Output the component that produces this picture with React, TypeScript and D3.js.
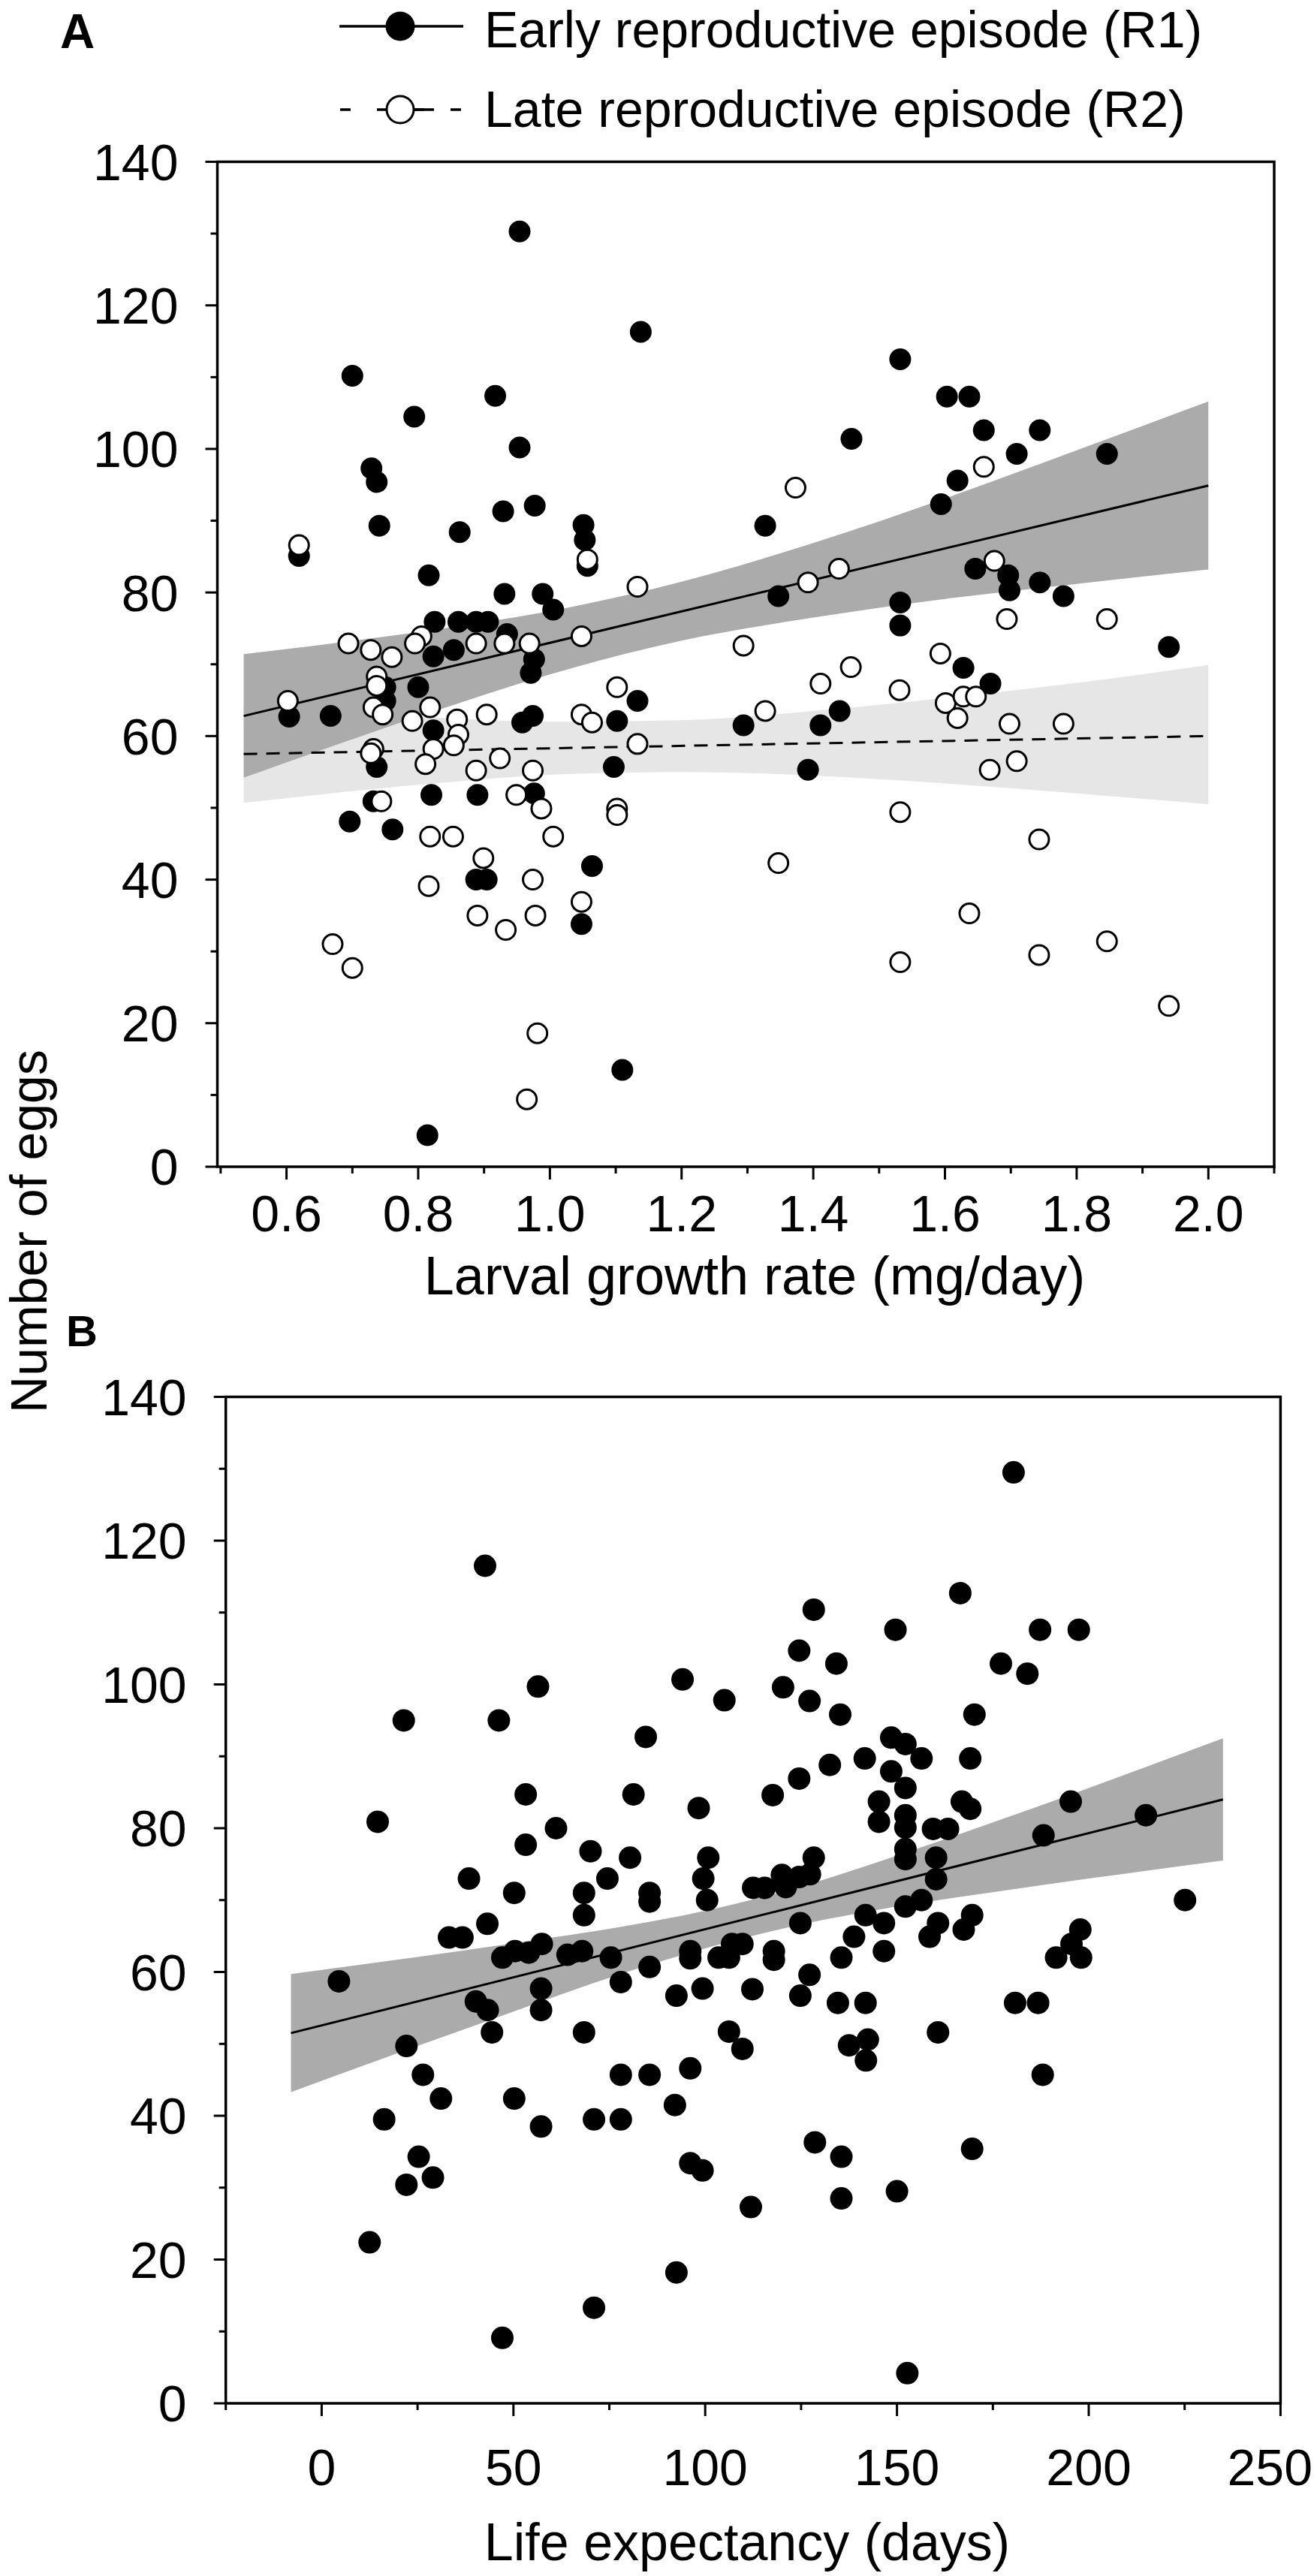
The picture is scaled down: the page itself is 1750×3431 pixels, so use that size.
import * as d3 from 'd3'
import React from 'react'

type Pt = [number, number]

// panel A: number of eggs vs larval growth rate (mg/day)
const growthEarly: Pt[] = [
  [0.954, 130.3], [1.138, 116.3], [0.7, 110.2], [1.532, 112.5], [0.917, 107.4], [0.794, 104.5],
  [1.603, 107.3], [1.637, 107.3], [1.458, 101.4], [1.659, 102.6], [1.744, 102.6], [1.709, 99.3],
  [1.846, 99.3], [0.954, 100.2], [0.729, 97.3], [0.737, 95.4], [0.741, 89.3], [0.929, 91.3],
  [0.977, 92.1], [0.863, 88.4], [1.051, 89.4], [1.053, 87.3], [1.057, 83.7], [0.816, 82.4],
  [1.327, 89.3], [1.594, 92.3], [1.619, 95.6], [1.646, 83.3], [1.696, 82.4], [1.698, 80.3],
  [1.744, 81.4], [1.78, 79.5], [1.532, 78.6], [1.532, 75.4], [1.347, 79.5], [0.931, 79.8],
  [0.989, 79.8], [1.005, 77.6], [0.825, 75.9], [0.861, 75.9], [0.888, 75.9], [0.906, 75.9],
  [0.935, 74.2], [0.854, 72.0], [0.823, 71.1], [0.976, 70.7], [0.971, 68.8], [0.8, 66.8],
  [0.75, 66.8], [0.75, 64.9], [0.619, 85.1], [0.604, 62.7], [0.667, 62.8], [1.94, 72.4],
  [1.669, 67.3], [1.628, 69.5], [1.294, 61.5], [1.411, 61.5], [1.44, 63.5], [1.392, 55.3],
  [1.102, 62.1], [1.097, 55.7], [1.133, 64.9], [0.958, 61.9], [0.974, 62.8], [0.737, 55.7],
  [0.823, 60.8], [0.82, 51.8], [0.89, 51.8], [0.976, 52.0], [0.732, 50.9], [0.696, 48.1],
  [0.761, 47.0], [0.888, 40.0], [0.904, 40.0], [1.064, 41.9], [1.048, 33.8], [1.11, 13.5],
  [0.814, 4.4],
]

const growthLate: Pt[] = [
  [0.619, 86.6], [1.057, 84.6], [1.133, 80.8], [0.694, 72.9], [0.728, 72.0], [0.76, 71.0],
  [0.805, 73.9], [0.795, 72.9], [0.888, 72.9], [0.931, 72.9], [0.969, 72.9], [1.048, 73.9],
  [0.737, 68.3], [0.737, 67.0], [0.732, 64.0], [0.746, 63.0], [0.602, 64.9], [0.818, 64.0],
  [0.791, 62.1], [0.859, 62.3], [0.861, 60.2], [0.854, 58.7], [0.904, 63.0], [1.048, 63.0],
  [1.064, 61.9], [1.102, 66.8], [1.133, 58.9], [0.732, 58.2], [0.728, 57.6], [0.823, 58.2],
  [0.811, 56.1], [0.924, 56.9], [0.888, 55.2], [0.974, 55.2], [0.949, 51.8], [0.987, 49.9],
  [0.744, 50.9], [1.102, 49.9], [1.102, 49.0], [1.005, 46.0], [0.818, 46.0], [0.853, 46.0],
  [0.899, 43.0], [0.816, 39.1], [0.974, 40.0], [1.048, 36.9], [0.89, 35.0], [0.933, 33.0],
  [0.978, 35.0], [0.67, 31.0], [0.7, 27.7], [0.965, 9.4], [0.981, 18.6], [1.373, 94.6],
  [1.659, 97.5], [1.675, 84.4], [1.439, 83.3], [1.392, 81.4], [1.294, 72.6], [1.694, 76.3],
  [1.846, 76.3], [1.593, 71.5], [1.457, 69.6], [1.411, 67.3], [1.531, 66.4], [1.327, 63.5],
  [1.601, 64.6], [1.628, 65.5], [1.647, 65.5], [1.619, 62.5], [1.698, 61.7], [1.78, 61.7],
  [1.668, 55.3], [1.709, 56.5], [1.532, 49.4], [1.743, 45.6], [1.347, 42.3], [1.637, 35.3],
  [1.846, 31.4], [1.743, 29.5], [1.532, 28.5], [1.94, 22.4],
]

// panel B: number of eggs vs life expectancy (days)
const lifeEggs: Pt[] = [
  [42.6, 116.5], [56.4, 99.7], [21.4, 95.0], [46.2, 95.0], [94.1, 100.7], [105.0, 97.8],
  [84.5, 92.7], [53.2, 84.7], [81.3, 84.7], [98.3, 82.8], [14.6, 80.9], [61.1, 80.0],
  [53.2, 77.7], [70.1, 76.8], [80.4, 75.9], [100.8, 75.9], [38.4, 73.0], [74.5, 73.0],
  [99.5, 73.0],
  [4.5, 58.7], [22.1, 49.7], [26.4, 45.7], [31.1, 42.4], [16.3, 39.5], [25.3, 34.3],
  [22.1, 30.4], [29.0, 31.4], [12.5, 22.4], [47.1, 9.1], [33.2, 64.8], [36.7, 64.8],
  [50.2, 71.0], [43.2, 66.7], [40.2, 55.9], [43.3, 54.7], [44.4, 51.6], [47.1, 62.0],
  [50.4, 62.9], [54.0, 62.7], [57.4, 63.9], [57.2, 57.7], [57.2, 54.7], [50.2, 42.4],
  [57.2, 38.5], [68.4, 71.0], [68.4, 67.9], [64.1, 62.4], [67.9, 62.9], [75.4, 62.0],
  [78.0, 58.6], [68.4, 51.6], [71.0, 39.5], [78.0, 39.5], [78.0, 45.7], [71.0, 13.3],
  [85.5, 71.0], [85.5, 69.8], [85.5, 60.7], [85.5, 45.7], [92.5, 56.7], [92.1, 41.5],
  [92.5, 18.2], [96.1, 62.9], [96.1, 61.9], [96.1, 46.6], [99.3, 57.7], [96.1, 33.4],
  [99.3, 32.4], [100.5, 70.0], [103.5, 62.0], [106.2, 62.0], [107.0, 63.9], [109.7, 63.9],
  [106.2, 51.7], [109.7, 49.3], [111.9, 27.3], [112.3, 57.6],
  [180.4, 129.5], [166.5, 112.7], [149.6, 107.6], [187.3, 107.6], [197.4, 107.6], [128.3, 110.4],
  [124.5, 104.7], [134.2, 102.9], [177.1, 102.9], [184.0, 101.5], [120.3, 99.6], [127.2, 97.7],
  [135.2, 95.8], [170.2, 95.8], [148.5, 92.6], [152.2, 91.7], [156.4, 89.7], [141.6, 89.7],
  [132.5, 88.8], [169.1, 89.7], [148.5, 87.9], [152.2, 85.6], [124.5, 86.9], [117.6, 84.6],
  [145.3, 83.7], [166.9, 83.7], [169.1, 82.7], [195.3, 83.7], [145.3, 80.9], [152.2, 81.8],
  [152.2, 80.1], [159.4, 79.9], [163.3, 79.9], [214.9, 81.8], [188.2, 79.0], [152.2, 77.1],
  [152.2, 75.7], [160.2, 75.9], [160.2, 72.9], [128.3, 75.9], [112.5, 71.7], [115.5, 71.7],
  [120.0, 73.5], [121.0, 71.8], [124.5, 73.2], [127.3, 73.6], [225.1, 70.0], [156.4, 70.0],
  [152.2, 69.1],
  [197.8, 65.9], [195.5, 63.9], [191.5, 62.0], [198.0, 62.0], [180.8, 55.7], [186.8, 55.7],
  [188.0, 45.7], [169.6, 35.4], [169.6, 67.9], [167.4, 65.9], [160.7, 51.6], [160.7, 66.8],
  [158.5, 64.9], [152.7, 4.2], [150.0, 29.5], [141.8, 67.9], [146.6, 66.8], [138.8, 64.9],
  [146.6, 62.9], [135.5, 62.0], [127.2, 59.6], [124.8, 56.7], [134.6, 55.7], [141.8, 55.7],
  [137.5, 49.8], [142.4, 50.6], [141.9, 47.7], [128.6, 36.3], [135.5, 34.3], [135.5, 28.5],
  [124.8, 66.8], [117.9, 62.9], [117.9, 61.7],
]

// fitted lines and confidence bands
const earlyFit: Pt[] = [[0.535, 62.8], [2.0, 94.9]]
const lateFit: Pt[] = [[0.535, 57.5], [2.0, 60.0]]
const lifeFit: Pt[] = [[-8, 51.5], [235, 84.0]]

const growthBandX = [0.535, 0.8, 1.0, 1.2, 1.4, 1.6, 1.8, 2.0]
const earlyBandLow = [54.2, 62.7, 68.6, 73.3, 76.5, 79.1, 81.2, 83.2]
const earlyBandHigh = [71.4, 74.5, 77.4, 81.5, 86.9, 93.1, 99.8, 106.6]
const lateBandLow = [50.7, 53.2, 54.6, 55.0, 54.5, 53.4, 52.0, 50.5]
const lateBandHigh = [64.3, 62.7, 62.0, 62.2, 63.5, 65.3, 67.4, 69.9]
const lifeBandX = [-8, 25, 50, 75, 100, 125, 150, 175, 200, 235]
const lifeBandLow = [43.3, 49.7, 54.5, 59.2, 63.3, 66.6, 69.1, 71.1, 73.0, 75.5]
const lifeBandHigh = [59.7, 62.1, 64.0, 66.0, 68.5, 71.9, 76.2, 80.8, 85.6, 92.5]

const eggLabels = ['0', '20', '40', '60', '80', '100', '120', '140']
const growthLabels = ['0.6', '0.8', '1.0', '1.2', '1.4', '1.6', '1.8', '2.0']
const lifeLabels = ['0', '50', '100', '150', '200', '250']

const FONT = 'Liberation Sans, Arial, Helvetica, sans-serif'
const BAND_DARK = '#ababab'
const BAND_LIGHT = '#e6e6e6'
const TICK_FONT = 68
const PAGE_W = 1750

const band = (x, y, xs, lo, hi) =>
  d3
    .area<number>()
    .x((d) => x(d))
    .y0((_, i) => y(lo[i]))
    .y1((_, i) => y(hi[i]))
    .curve(d3.curveMonotoneX)(xs)

const fitLine = (x, y, pts: Pt[]) =>
  d3
    .line<Pt>()
    .x((d) => x(d[0]))
    .y((d) => y(d[1]))(pts)

const Axes = ({ x, y, xTicks, xLabels, labelDrop }) => {
  const [left, right] = x.range()
  const [bottom, top] = y.range()
  return (
    <g>
      {d3.range(0, 141, 10).map((v) => (
        <line key={'y' + v} x1={left} x2={left - (v % 20 === 0 ? 16 : 9)} y1={y(v)} y2={y(v)} stroke="#000" strokeWidth={3} />
      ))}
      {xTicks.map((t) => (
        <line key={'x' + t.v} x1={x(t.v)} x2={x(t.v)} y1={bottom} y2={bottom + (t.major ? 17 : 9)} stroke="#000" strokeWidth={3} />
      ))}
      {eggLabels.map((l) => (
        <text key={'yl' + l} x={left - 52} y={y(+l)} dy="0.36em" textAnchor="end" fontSize={TICK_FONT} fontFamily={FONT}>
          {l}
        </text>
      ))}
      {xLabels.map((l) => {
        // keep the last label inside the page, as the reference has it flush to the edge
        const half = l.length * TICK_FONT * 0.28
        const clipped = x(+l) + half > PAGE_W - 2
        return (
          <text
            key={'xl' + l}
            x={clipped ? PAGE_W - 2 : x(+l)}
            y={bottom + labelDrop}
            textAnchor={clipped ? 'end' : 'middle'}
            fontSize={TICK_FONT}
            fontFamily={FONT}
          >
            {l}
          </text>
        )
      })}
      <rect x={left} y={top} width={right - left} height={bottom - top} fill="none" stroke="#000" strokeWidth={3.5} />
    </g>
  )
}

const App = () => {
  const ax = d3.scaleLinear().domain([0.495, 2.1]).range([289.5, 1697])
  const ay = d3.scaleLinear().domain([0, 140]).range([1554, 215.5])
  const bx = d3.scaleLinear().domain([-25, 250]).range([300.7, 1705.4])
  const by = d3.scaleLinear().domain([0, 140]).range([3201, 1860.5])

  const growthTicks = d3.range(5, 22).map((i) => ({ v: i / 10, major: i % 2 === 0 }))
  const lifeTicks = d3.range(-25, 251, 25).map((v) => ({ v, major: v % 50 === 0 }))

  return (
    <svg
      width={1750}
      height={3431}
      viewBox="0 0 1750 3431"
      style={{ position: 'absolute', left: 0, top: 0, background: '#fff' }}
    >
      <rect width={1750} height={3431} fill="#fff" />

      {/* panel A */}
      <text x={80} y={64} fontSize={64} fontWeight="bold" fontFamily={FONT}>A</text>
      <g>
        <line x1={452} x2={617} y1={35} y2={35} stroke="#000" strokeWidth={3.5} />
        <circle cx={533} cy={35} r={19.5} fill="#000" />
        <text x={645} y={63} fontSize={68} fontFamily={FONT}>Early reproductive episode (R1)</text>
        <line x1={453} x2={620} y1={146} y2={146} stroke="#000" strokeWidth={3.5} strokeDasharray="14,35" />
        <line x1={540} x2={578} y1={146} y2={146} stroke="#000" strokeWidth={3.5} />
        <circle cx={533} cy={146} r={18} fill="#fff" stroke="#000" strokeWidth={3} />
        <text x={645} y={169} fontSize={68} fontFamily={FONT}>Late reproductive episode (R2)</text>
      </g>
      <path d={band(ax, ay, growthBandX, lateBandLow, lateBandHigh)} fill={BAND_LIGHT} />
      <path d={band(ax, ay, growthBandX, earlyBandLow, earlyBandHigh)} fill={BAND_DARK} />
      <path d={fitLine(ax, ay, earlyFit)} stroke="#000" strokeWidth={3} fill="none" />
      <path d={fitLine(ax, ay, lateFit)} stroke="#000" strokeWidth={3} fill="none" strokeDasharray="18,12" />
      {growthEarly.map((d, i) => (
        <circle key={'e' + i} cx={ax(d[0])} cy={ay(d[1])} r={14.5} fill="#000" />
      ))}
      {growthLate.map((d, i) => (
        <circle key={'l' + i} cx={ax(d[0])} cy={ay(d[1])} r={13} fill="#fff" stroke="#000" strokeWidth={3} />
      ))}
      <Axes x={ax} y={ay} xTicks={growthTicks} xLabels={growthLabels} labelDrop={86} />
      <text x={1005} y={1724} textAnchor="middle" fontSize={72} fontFamily={FONT}>
        Larval growth rate (mg/day)
      </text>

      <text transform="translate(62,1640) rotate(-90)" textAnchor="middle" fontSize={68} fontFamily={FONT}>
        Number of eggs
      </text>

      {/* panel B */}
      <text x={88} y={1793} fontSize={58} fontWeight="bold" fontFamily={FONT}>B</text>
      <path d={band(bx, by, lifeBandX, lifeBandLow, lifeBandHigh)} fill={BAND_DARK} />
      <path d={fitLine(bx, by, lifeFit)} stroke="#000" strokeWidth={3} fill="none" />
      {lifeEggs.map((d, i) => (
        <circle key={'b' + i} cx={bx(d[0])} cy={by(d[1])} r={15} fill="#000" />
      ))}
      <Axes x={bx} y={by} xTicks={lifeTicks} xLabels={lifeLabels} labelDrop={109} />
      <text x={995} y={3410} textAnchor="middle" fontSize={70} fontFamily={FONT}>
        Life expectancy (days)
      </text>
    </svg>
  )
}

export default App
